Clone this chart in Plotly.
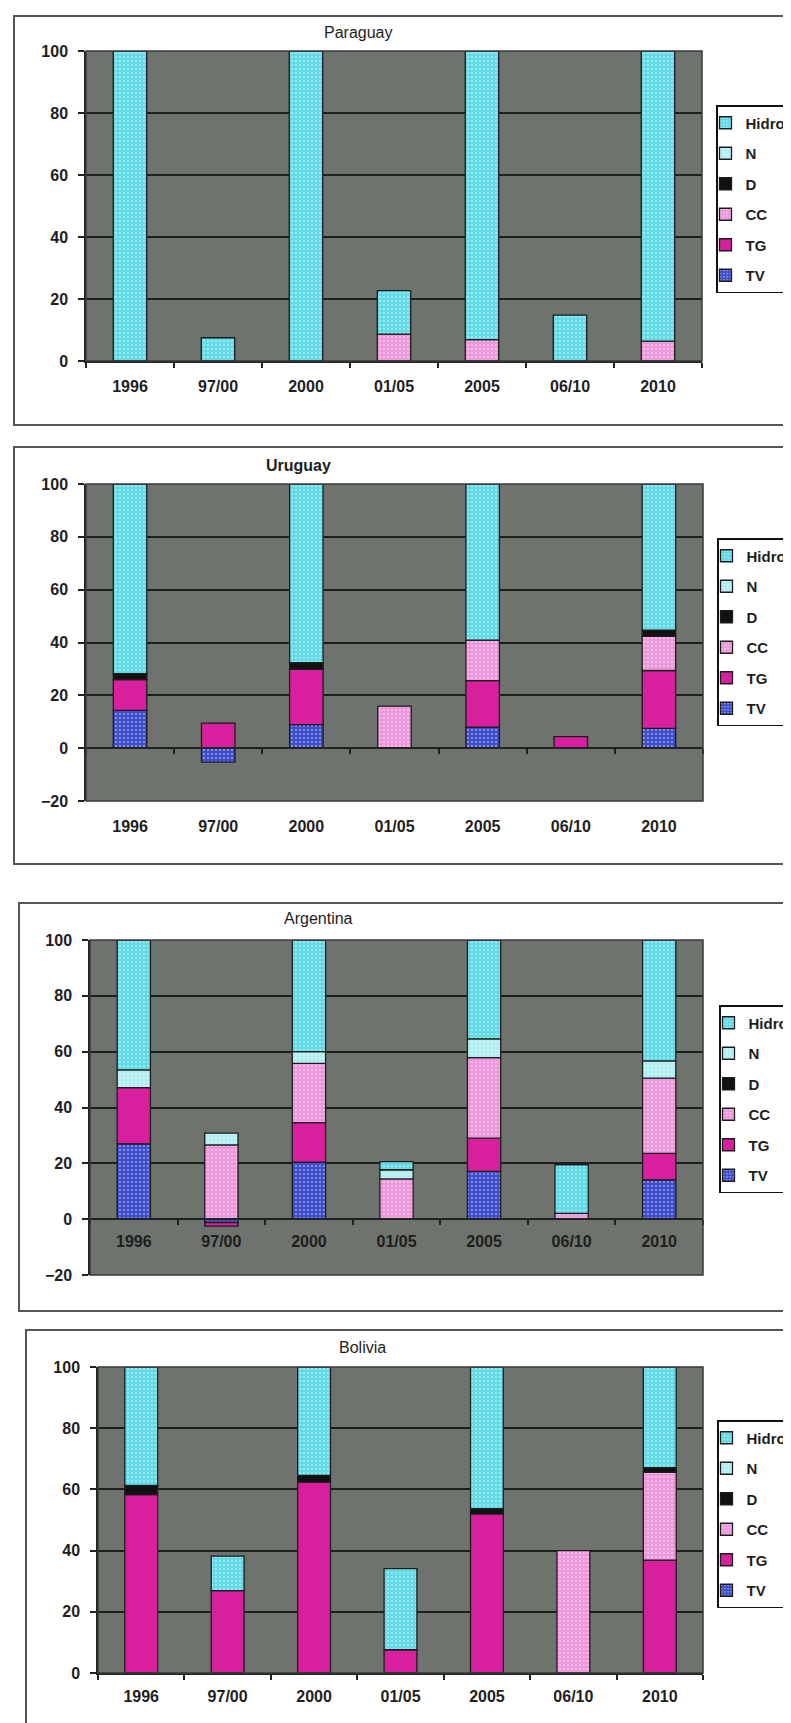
import plotly.graph_objects as go

W, H = 791, 1723

categories = ["1996", "97/00", "2000", "01/05", "2005", "06/10", "2010"]
series_names = ["TV", "TG", "CC", "D", "N", "Hidro"]

# ---- Paraguay (segment heights, %) ----
paraguay_tv = [None, None, None, None, None, None, None]
paraguay_tg = [None, None, None, None, None, None, None]
paraguay_cc = [None, None, None, 8.7, 6.9, None, 6.4]
paraguay_d = [None, None, None, None, None, None, None]
paraguay_n = [None, None, None, None, None, None, None]
paraguay_hidro = [100, 7.5, 100, 14.0, 93.1, 14.8, 93.6]

# ---- Uruguay ----
uruguay_tv = [14.3, -5.3, 8.9, None, 8.0, None, 7.5]
uruguay_tg = [11.7, 9.5, 20.9, None, 17.6, 4.4, 21.9]
uruguay_cc = [None, None, None, 15.9, 15.3, None, 12.9]
uruguay_d = [2.2, None, 2.6, None, None, None, 2.4]
uruguay_n = [None, None, None, None, None, None, None]
uruguay_hidro = [71.8, None, 67.6, None, 59.1, None, 55.3]

# ---- Argentina ----
argentina_tv = [27.0, -1.2, 20.4, None, 17.1, None, 14.1]
argentina_tg = [20.1, -1.3, 14.2, None, 11.9, None, 9.5]
argentina_cc = [None, 26.6, 21.2, 14.4, 28.9, 2.1, 26.9]
argentina_d = [None, None, None, None, None, None, None]
argentina_n = [6.4, 4.2, 4.2, 3.3, 6.7, None, 6.2]
argentina_hidro = [46.5, None, 40.0, 2.9, 35.4, 17.4, 43.3]

# ---- Bolivia ----
bolivia_tv = [None, None, None, None, None, None, None]
bolivia_tg = [58.3, 26.9, 62.4, 7.6, 52.0, None, 36.9]
bolivia_cc = [None, None, None, None, None, 40.0, 28.7]
bolivia_d = [3.0, None, 2.2, None, 1.7, None, 1.5]
bolivia_n = [None, None, None, None, None, None, None]
bolivia_hidro = [38.7, 11.3, 35.4, 26.5, 46.3, None, 32.9]

y_ticks = [-20, 0, 20, 40, 60, 80, 100]

colors = {
    "TV": "#3f4ecc",
    "TG": "#d81f9e",
    "CC": "#ee98dc",
    "D": "#111111",
    "N": "#b0eef2",
    "Hidro": "#62dbe6",
}
legend_rank = {"Hidro": 1, "N": 2, "D": 3, "CC": 4, "TG": 5, "TV": 6}
patterned = {"TV", "CC", "N", "Hidro"}

FONT = "Liberation Sans, Arial, sans-serif"
TXT = "#1e1e1e"

panels = [
    dict(title="Paraguay", bold=False, series=[paraguay_tv, paraguay_tg, paraguay_cc, paraguay_d, paraguay_n, paraguay_hidro],
         px=(78, 694), py=(43, 353), yr=(0, 100), zero_axis=False, std=10,
         title_xy=(350, 25), legend_xy=(708, 97), box=(6, 8, 805, 417)),
    dict(title="Uruguay", bold=True, series=[uruguay_tv, uruguay_tg, uruguay_cc, uruguay_d, uruguay_n, uruguay_hidro],
         px=(78, 695), py=(476, 793), yr=(-20, 100), zero_axis=True, std=64,
         title_xy=(290, 458), legend_xy=(709, 530), box=(6, 439, 805, 856)),
    dict(title="Argentina", bold=False, series=[argentina_tv, argentina_tg, argentina_cc, argentina_d, argentina_n, argentina_hidro],
         px=(82, 695), py=(932, 1267), yr=(-20, 100), zero_axis=True, std=8,
         title_xy=(310, 911), legend_xy=(711, 997), box=(11, 895, 805, 1303)),
    dict(title="Bolivia", bold=False, series=[bolivia_tv, bolivia_tg, bolivia_cc, bolivia_d, bolivia_n, bolivia_hidro],
         px=(90, 695), py=(1359, 1665), yr=(0, 100), zero_axis=False, std=8,
         title_xy=(354, 1339), legend_xy=(709, 1412), box=(18, 1322, 805, 1740)),
]


def fx(p):
    return p / W


def fy(p):
    return 1 - p / H


fig = go.Figure()
shapes = []
annotations = []

for i, P in enumerate(panels, start=1):
    xa = "x" if i == 1 else f"x{i}"
    ya = "y" if i == 1 else f"y{i}"
    lg = "legend" if i == 1 else f"legend{i}"
    for name, vals in zip(series_names, P["series"]):
        marker = dict(color=colors[name], line=dict(color="#1c1c1c", width=1.3))
        if name in patterned:
            marker["pattern"] = dict(shape=".", fgcolor="white", size=4, solidity=0.18, fillmode="overlay")
        fig.add_trace(go.Bar(
            x=categories, y=vals, name=name, marker=marker,
            xaxis=xa, yaxis=ya, legend=lg, legendgroup=f"{name}{i}",
            legendrank=legend_rank[name],
            hovertemplate=f"{P['title']} %{{x}}<br>{name}: %{{y}}<extra></extra>",
        ))

    y0p, y1p = fy(P["py"][1]), fy(P["py"][0])
    ymin, ymax = P["yr"]
    xkey = "xaxis" if i == 1 else f"xaxis{i}"
    ykey = "yaxis" if i == 1 else f"yaxis{i}"

    xaxis = dict(
        domain=[fx(P["px"][0]), fx(P["px"][1])], type="category", range=[-0.5, 6.5],
        tickson="boundaries", ticks="outside", ticklen=5, tickwidth=1.5, tickcolor="#222",
        showline=True, linecolor="#222", linewidth=2, showgrid=False,
        tickfont=dict(family=FONT, size=16, color=TXT, weight="bold"), ticklabelstandoff=P["std"],
        fixedrange=True,
    )
    if P["zero_axis"]:
        xaxis["anchor"] = "free"
        xaxis["position"] = y0p + (0 - ymin) / (ymax - ymin) * (y1p - y0p)
    else:
        xaxis["anchor"] = ya

    yaxis = dict(
        domain=[y0p, y1p], range=[ymin, ymax], tickmode="array",
        tickvals=[t for t in y_ticks if ymin <= t <= ymax],
        showgrid=True, gridcolor="#1b201b", gridwidth=2, zeroline=False,
        showline=True, linecolor="#222", linewidth=1.5,
        ticks="outside", ticklen=6, tickwidth=1.5, tickcolor="#222",
        tickfont=dict(family=FONT, size=16, color=TXT, weight="bold"), anchor=xa,
        ticklabelstandoff=7, fixedrange=True,
    )
    fig.update_layout({xkey: xaxis, ykey: yaxis})

    # plot-area border
    shapes.append(dict(type="rect", xref=f"{xa} domain", yref=f"{ya} domain", x0=0, y0=0, x1=1, y1=1,
                       line=dict(color="#3a3a3a", width=1.5), layer="above"))
    # chart (panel) border
    bx0, by0, bx1, by1 = P["box"]
    shapes.append(dict(type="rect", xref="paper", yref="paper", x0=fx(bx0), y0=fy(by1), x1=fx(bx1), y1=fy(by0),
                       line=dict(color="#555555", width=2), layer="below"))
    # title
    tx, ty = P["title_xy"]
    annotations.append(dict(text=f"<b>{P['title']}</b>" if P["bold"] else P["title"],
                            x=fx(tx), y=fy(ty), xref="paper", yref="paper", showarrow=False,
                            xanchor="center", yanchor="middle",
                            font=dict(family=FONT, size=16, color=TXT)))
    # legend
    lx, ly = P["legend_xy"]
    fig.update_layout({lg: dict(
        x=fx(lx), y=fy(ly), xanchor="left", yanchor="top", xref="paper", yref="paper",
        bgcolor="white", bordercolor="#111", borderwidth=1.5,
        font=dict(family=FONT, size=15, color=TXT, weight="bold"),
        traceorder="grouped", tracegroupgap=8, itemwidth=30, indentation=-12,
    )})

fig.update_layout(
    width=W, height=H,
    margin=dict(l=0, r=0, t=0, b=0, pad=0, autoexpand=False),
    paper_bgcolor="white", plot_bgcolor="#6f736e",
    barmode="relative", bargap=0.62,
    shapes=shapes, annotations=annotations,
    showlegend=True,
)

fig.write_html("out.html")
